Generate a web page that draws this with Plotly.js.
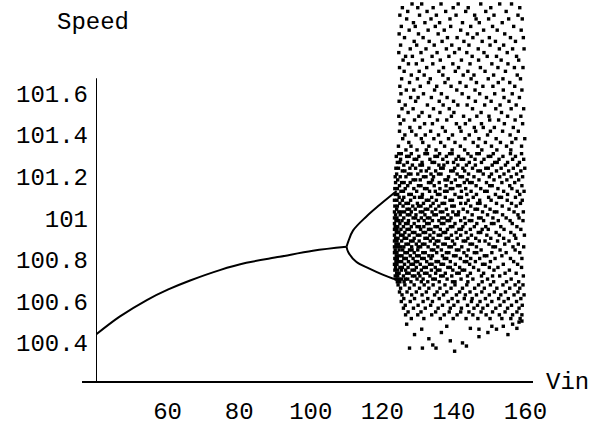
<!DOCTYPE html>
<html>
<head>
<meta charset="utf-8">
<script src="https://cdn.plot.ly/plotly-3.0.1.min.js"></script>
<style>html,body{margin:0;padding:0;background:#fff;}#chart{width:606px;height:429px;}</style>
</head>
<body>
<div id="chart"></div>
<script>
// Period-1 branch
const stableVin   = [40, 46.6, 54.2, 60.2, 66.3, 74.6, 82, 91.3, 100.6, 110];
const stableSpeed = [100.44, 100.526, 100.606, 100.657, 100.70, 100.75, 100.785, 100.814, 100.843, 100.862];
// Period-2 branches
const upperVin   = [110, 110.5, 111.8, 115.5, 119.2, 122.0, 124.0];
const upperSpeed = [100.862, 100.888, 100.94, 101.007, 101.063, 101.103, 101.13];
const lowerVin   = [110, 110.5, 112.7, 116.4, 120.1, 122.9, 124.0];
const lowerSpeed = [100.862, 100.836, 100.79, 100.757, 100.728, 100.71, 100.705];

// Chaotic cloud: rows of [speed, [Vin ...]]
const cloudUpperRows = [
[102.03,[128.3,131.0,136.4,141.2,147.5,152.8,156.1]],
[102.012,[125.6,129.9,134.2,139.8,144.0,150.3,158.4]],
[101.994,[127.1,132.5,137.7,143.3,148.9,154.6]],
[101.976,[124.9,130.4,135.1,140.6,145.8,151.2,157.9]],
[101.958,[126.8,133.6,138.9,146.2,149.7,155.3,159.1]],
[101.94,[128.7,131.9,136.0,142.4,147.1,153.5]],
[101.922,[125.3,129.2,134.8,139.1,144.7,150.8,156.7]],
[101.904,[127.5,132.8,137.3,141.9,148.3,152.1,158.8]],
[101.886,[124.7,130.1,135.6,143.8,146.5,154.2]],
[101.868,[126.2,131.4,138.2,140.9,145.3,149.9,155.8,159.4]],
[101.85,[128.9,133.1,136.7,142.8,147.9,151.6,157.2]],
[101.832,[125.1,129.6,134.5,139.4,144.2,150.1,153.9]],
[101.814,[127.8,132.2,137.9,141.5,146.8,152.7,156.4,159.6]],
[101.796,[124.6,130.8,135.3,140.2,143.6,148.4,154.9]],
[101.778,[126.5,128.4,133.9,138.6,145.1,149.3,151.9,157.5]],
[101.76,[125.8,131.2,136.2,142.1,146.9,153.2,158.1]],
[101.742,[127.3,129.5,134.1,139.7,144.5,150.6,155.1]],
[101.724,[124.8,132.4,137.1,141.3,147.4,152.3,156.9,159.3]],
[101.706,[126.1,130.3,135.8,140.4,143.9,148.7,154.4]],
[101.688,[128.1,131.7,136.9,142.6,145.6,151.1,157.7]],
[101.67,[125.4,129.8,133.4,138.4,144.8,149.6,153.7,158.6]],
[101.652,[127.6,132.9,137.5,141.7,146.3,152.4,155.6]],
[101.634,[124.9,130.6,135.2,139.2,143.4,148.1,150.9,157.0]],
[101.616,[126.7,128.8,134.6,140.8,145.9,153.8,159.0]],
[101.598,[125.2,131.5,136.5,142.3,147.2,151.4,156.3]],
[101.58,[127.9,130.0,133.7,138.1,144.1,149.1,154.0,158.3]],
[101.562,[124.7,129.3,135.9,139.9,146.0,150.4,155.4]],
[101.544,[126.4,132.6,137.0,141.1,143.7,148.6,152.9,157.4]],
[101.526,[125.5,128.6,134.3,138.7,145.2,151.7,156.0,159.5]],
[101.508,[127.2,131.1,136.1,140.0,147.6,153.3]],
[101.49,[124.6,130.2,133.2,139.3,142.7,146.4,149.8,155.0,158.7]],
[101.472,[126.0,129.0,135.4,138.0,144.4,150.0,152.5,157.1]],
[101.454,[125.0,131.8,134.0,140.7,143.2,147.7,154.1,159.2]],
[101.436,[127.7,130.5,136.8,141.6,145.7,148.2,151.3,156.6]],
[101.418,[124.8,128.2,133.5,137.6,142.0,146.1,150.2,153.6,158.0]],
[101.40,[126.3,129.4,132.0,135.7,139.6,144.3,149.4,155.7]],
[101.382,[125.7,130.9,134.4,138.5,143.1,147.0,151.8,157.3,159.8]],
[101.364,[127.4,131.3,136.3,140.3,145.4,148.8,153.0,156.2]],
[101.346,[124.5,128.0,133.0,137.4,141.8,146.7,150.5,154.7,158.9]],
[101.328,[126.6,129.7,132.3,135.0,139.5,143.0,147.8,152.0,155.9]]
];
const cloudDenseRows = [
[101.31,[124.6,125.3,128.1,131.9,132.6,136.0,138.8,139.5,143.9,146.4,147.1,151.0,155.8,158.9]],
[101.297,[123.9,126.8,127.5,130.2,134.7,135.4,137.9,141.3,144.8,149.6,150.3,153.7,157.2]],
[101.283,[125.1,128.9,129.6,133.3,136.9,140.6,142.0,142.7,145.9,148.4,152.6,156.4,159.5]],
[101.268,[124.2,124.9,127.0,131.1,133.9,134.6,138.2,139.9,144.3,147.7,151.4,152.1,155.0,158.3]],
[101.255,[126.0,128.4,130.5,131.2,135.8,137.2,141.1,143.5,146.0,150.7,154.4,157.8]],
[101.24,[123.8,124.5,127.7,129.3,133.0,136.3,137.0,140.2,142.5,145.2,148.9,149.6,153.2,156.6,159.8]],
[101.227,[125.6,126.3,130.8,132.3,134.9,139.1,139.8,143.0,146.7,147.4,151.9,155.3,158.7]],
[101.212,[124.0,127.3,128.0,129.9,133.6,135.7,136.4,140.9,144.1,148.2,150.5,154.0,157.5]],
[101.199,[123.6,125.0,126.6,131.5,132.2,134.3,138.5,141.7,142.4,145.6,149.9,152.8,156.0,159.2]],
[101.184,[124.3,128.6,129.3,130.6,134.0,137.5,138.2,140.4,143.7,147.0,151.2,154.8,158.1]],
[101.171,[123.7,125.4,126.1,127.8,132.9,133.6,135.9,139.3,142.9,144.4,145.1,149.1,153.4,157.0]],
[101.156,[124.8,127.1,130.1,130.8,134.5,137.8,141.0,141.7,146.2,150.0,150.7,155.6,159.0]],
[101.142,[123.5,124.2,126.4,128.8,131.8,132.5,136.1,139.0,139.7,143.3,147.5,152.3,156.2]],
[101.129,[125.2,125.9,129.6,133.2,134.8,137.4,138.1,142.1,144.8,148.6,149.3,153.9,157.7,159.6]],
[101.114,[123.6,124.3,127.4,128.1,131.2,135.4,136.1,140.3,143.6,146.3,151.6,155.0,158.4]],
[101.1,[124.7,126.0,129.0,130.4,131.1,133.8,137.6,141.4,142.1,145.4,149.7,152.6,153.3,157.2]],
[101.086,[123.4,124.1,125.6,127.9,132.3,133.0,135.1,138.9,139.6,144.0,147.2,150.4,154.9,159.1]],
[101.071,[124.9,126.6,127.3,129.8,131.5,134.2,136.7,137.4,141.9,143.3,146.6,147.3,151.9,156.1,158.6]],
[101.058,[123.5,124.2,125.8,128.5,130.1,130.8,133.5,135.8,139.4,140.1,144.7,148.8,153.5,157.4]],
[101.043,[124.0,126.9,127.6,129.2,132.0,132.7,134.9,137.9,142.6,145.9,146.6,150.1,155.4]],
[101.03,[123.4,124.6,125.3,126.2,128.1,130.6,131.3,133.9,136.2,136.9,139.7,141.3,143.8,148.0,151.3,152.0,156.8,159.4]],
[101.016,[123.7,125.0,127.0,127.7,129.4,131.9,134.4,135.1,138.3,140.5,141.2,145.1,149.4,153.6,157.9]],
[101.001,[123.4,124.1,126.0,128.6,129.3,130.9,132.6,133.3,136.6,137.3,139.2,143.0,146.9,147.6,150.9,154.6,158.2]],
[100.988,[123.8,124.5,125.5,127.3,130.1,131.7,134.0,135.8,138.1,138.8,141.9,144.3,145.0,148.3,152.4,155.7,159.3]],
[100.974,[123.4,124.9,126.5,127.2,128.9,132.4,133.1,136.5,137.2,140.3,143.2,146.4,150.5,151.2,156.3]],
[100.959,[123.6,124.3,125.9,128.1,129.7,130.4,131.6,134.7,135.4,139.0,139.7,142.5,145.7,148.9,153.1,157.6]],
[100.946,[123.4,124.1,125.2,126.9,127.6,130.7,132.9,133.6,136.2,138.2,141.4,142.1,144.6,147.9,149.6,154.0,158.7]],
[100.931,[123.9,124.6,126.3,128.4,129.1,131.4,132.1,134.4,137.0,137.7,140.6,143.4,146.8,147.5,151.8,155.9]],
[100.918,[123.4,125.1,125.8,127.5,129.8,130.5,133.3,135.6,136.3,139.3,141.9,144.9,149.2,152.7,156.9,159.7]],
[100.903,[123.7,124.4,126.1,126.8,128.9,131.9,132.6,134.2,137.8,138.5,140.9,143.9,146.1,150.3,153.9,157.3]],
[100.89,[123.4,124.1,125.4,127.9,128.6,130.3,133.4,135.1,135.8,139.6,142.6,143.3,147.1,148.7,152.2,155.4]],
[100.875,[123.8,124.5,126.6,127.3,129.5,131.2,131.9,134.6,136.9,137.6,140.2,144.5,145.2,149.8,154.2,158.0]],
[100.862,[123.4,124.2,125.1,126.0,128.2,130.0,130.7,132.8,135.5,138.6,139.3,142.2,146.3,150.9,151.6,156.5,159.5]],
[100.847,[123.6,124.7,125.7,127.6,128.3,129.9,133.7,134.4,136.5,140.7,141.4,144.0,147.6,152.9,157.1]],
[100.834,[123.4,124.1,126.3,127.0,128.9,131.3,132.0,135.2,137.9,138.6,142.8,145.7,146.4,150.6,154.6,158.4]],
[100.819,[123.9,124.8,125.5,127.8,129.6,130.3,133.0,134.0,136.8,139.9,140.6,143.6,148.5,149.2,153.4]],
[100.806,[123.5,124.2,126.0,126.7,128.6,131.0,131.7,133.6,137.3,138.0,141.8,144.7,147.2,151.5,155.8,159.0]],
[100.791,[123.8,124.5,125.4,127.3,129.2,129.9,132.4,135.0,135.7,139.0,142.9,143.6,146.0,150.2,156.7]],
[100.778,[123.4,124.1,126.2,128.0,128.7,130.6,133.2,133.9,136.4,137.1,140.4,144.4,148.0,148.7,153.8,157.8]],
[100.763,[123.7,124.9,125.6,127.2,129.5,131.6,132.3,134.8,138.3,139.0,141.6,145.5,149.9,152.3,158.9]],
[100.75,[123.5,124.2,125.3,126.5,128.3,129.0,130.9,133.7,135.4,136.1,139.7,142.3,143.0,146.9,151.2,155.5]],
[100.735,[124.0,124.7,126.8,127.5,130.1,131.8,132.5,134.9,137.6,140.8,141.5,144.6,148.3,154.3,157.4]],
[100.722,[123.6,124.3,125.9,128.4,129.1,130.5,133.3,136.3,137.0,139.4,143.8,147.7,150.8,152.8,159.4]],
[100.707,[123.9,124.6,125.3,126.4,127.1,129.7,131.4,134.1,134.8,138.1,142.0,145.3,149.4,156.0]],
[100.694,[124.2,124.9,126.1,128.0,130.9,132.7,135.9,139.6,140.3,143.9,147.9,151.1,154.7,158.1]]
];
const cloudLowerRows = [
[100.679,[124.4,126.3,128.9,131.7,134.2,137.5,140.3,143.6,146.9,150.2,153.7,157.1,159.3]],
[100.663,[125.1,127.6,130.4,133.0,136.1,139.2,142.4,145.8,148.5,152.0,155.6,158.4]],
[100.645,[124.8,126.9,129.5,132.3,135.3,138.0,141.6,144.5,147.8,151.3,154.4,157.9]],
[100.631,[125.5,128.2,131.1,134.6,137.1,140.7,143.2,146.3,149.9,153.1,156.8,159.6]],
[100.613,[126.0,129.0,132.7,135.9,139.5,142.9,145.1,148.8,152.5,155.2,158.7]],
[100.599,[125.3,127.8,131.4,134.0,138.4,141.1,144.9,147.3,150.6,154.0,157.5]],
[100.581,[126.4,130.0,133.5,136.8,140.0,143.8,146.6,149.4,152.9,156.1,159.1]],
[100.567,[125.9,128.7,132.0,135.6,139.0,142.1,145.6,148.1,151.7,155.0,158.2]],
[100.549,[127.2,130.8,134.9,138.7,141.9,144.2,147.6,150.8,154.3,157.6]],
[100.535,[126.5,129.9,133.8,137.3,140.9,145.3,149.0,152.7,156.4,159.0]],
[100.517,[128.1,131.6,136.2,139.8,143.4,146.7,150.1,153.4,155.9,158.5]]
];
const cloudBottomVin   = [127.6,131.2,131.0,133.0,135.0,138.0,142.4,147.0,147.0,151.9,156.4,159.0,129.0,136.5,140.2,144.6,149.5,153.8,157.6,126.8,134.1,139.0,143.5,150.6,155.1,158.2];
const cloudBottomSpeed = [100.375,100.375,100.466,100.42,100.375,100.48,100.40,100.43,100.466,100.466,100.49,100.505,100.44,100.45,100.36,100.47,100.45,100.48,100.47,100.49,100.39,100.41,100.385,100.48,100.44,100.50];

const xTicks = [60, 80, 100, 120, 140, 160];
const yTicks = [100.4, 100.6, 100.8, 101, 101.2, 101.4, 101.6];
const yTickText = ['100.4', '100.6', '100.8', '101', '101.2', '101.4', '101.6'];

const cx = [], cy = [];
[cloudUpperRows, cloudDenseRows, cloudLowerRows].forEach(rows =>
  rows.forEach(([s, vs]) => vs.forEach(v => { cx.push(v); cy.push(s); })));
cloudBottomVin.forEach((v, i) => { cx.push(v); cy.push(cloudBottomSpeed[i]); });

const FONT = 'Liberation Mono, Courier New, monospace';
const FS = 24;
const lineStyle = {color: '#000', width: 2, shape: 'spline'};
const traces = [
  {type: 'scatter', mode: 'lines', x: stableVin, y: stableSpeed, line: lineStyle, hoverinfo: 'skip'},
  {type: 'scatter', mode: 'lines', x: upperVin, y: upperSpeed, line: lineStyle, hoverinfo: 'skip'},
  {type: 'scatter', mode: 'lines', x: lowerVin, y: lowerSpeed, line: lineStyle, hoverinfo: 'skip'},
  {type: 'scatter', mode: 'markers', x: cx, y: cy, marker: {symbol: 'square', size: 3.4, color: '#000', line: {width: 0}}, hoverinfo: 'skip'}
];

const layout = {
  width: 606, height: 429,
  margin: {l: 96, r: 73, t: 0, b: 47},
  paper_bgcolor: '#fff', plot_bgcolor: '#fff',
  showlegend: false,
  font: {family: FONT, size: FS, color: '#000'},
  xaxis: {
    range: [40, 162.1], showgrid: false, zeroline: false, showline: false,
    tickvals: xTicks, ticks: '', ticklabelstandoff: 12,
    tickfont: {family: FONT, size: FS, color: '#000'}
  },
  yaxis: {
    range: [100.212, 102.049], showgrid: false, zeroline: false, showline: false,
    tickvals: yTicks, ticktext: yTickText, ticks: '', ticklabelstandoff: 7,
    tickfont: {family: FONT, size: FS, color: '#000'}
  },
  shapes: [
    {type: 'line', xref: 'paper', yref: 'paper', x0: -0.032, x1: 1, y0: 0, y1: 0, line: {color: '#000', width: 2}},
    {type: 'line', xref: 'x', yref: 'y', x0: 40, x1: 40, y0: 100.212, y1: 101.673, line: {color: '#000', width: 2}}
  ],
  annotations: [
    {text: 'Speed', xref: 'paper', yref: 'paper', x: -0.006, y: 0.94, xanchor: 'center', yanchor: 'middle', showarrow: false, font: {family: FONT, size: FS, color: '#000'}},
    {text: 'Vin', xref: 'paper', yref: 'paper', x: 1.08, y: 0.0, xanchor: 'center', yanchor: 'middle', showarrow: false, font: {family: FONT, size: FS, color: '#000'}}
  ]
};

Plotly.newPlot('chart', traces, layout, {displayModeBar: false, staticPlot: true});
</script>
</body>
</html>
